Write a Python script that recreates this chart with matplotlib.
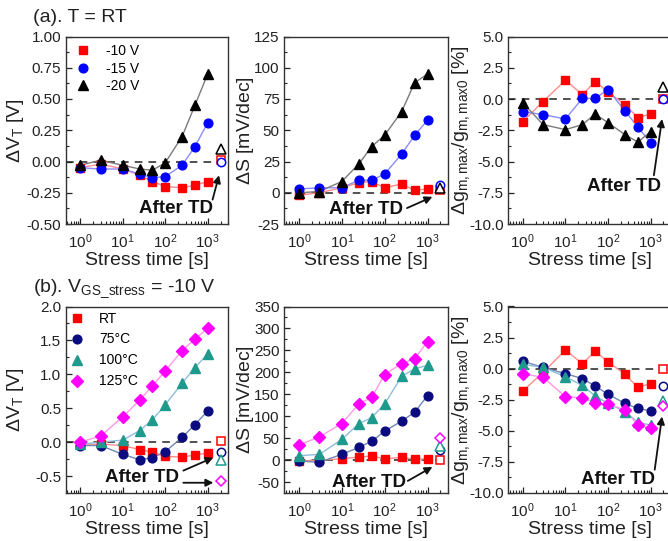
import numpy as np
import matplotlib.pyplot as plt
from matplotlib.ticker import (FixedLocator, FormatStrFormatter,
                               AutoMinorLocator, LogLocator, NullFormatter)

plt.rcParams['font.family'] = ['Liberation Sans', 'DejaVu Sans']
plt.rcParams['mathtext.fontset'] = 'custom'
plt.rcParams['mathtext.rm'] = 'Liberation Sans'
plt.rcParams['mathtext.it'] = 'Liberation Sans:italic'
plt.rcParams['mathtext.bf'] = 'Liberation Sans:bold'
plt.rcParams['mathtext.default'] = 'regular'

# tempos de estresse [s] e ponto apos TD
t = [1, 3, 10, 25, 50, 100, 250, 500, 1000]
t_td = 2000

# (a) T = RT, varias tensoes
a_labels = ['-10 V', '-15 V', '-20 V']
a_vt = [
    [-0.05, -0.02, -0.06, -0.11, -0.16, -0.20, -0.21, -0.19, -0.16],
    [-0.05, -0.06, -0.06, -0.10, -0.13, -0.12, -0.03, 0.12, 0.31],
    [-0.03, 0.01, -0.03, -0.06, -0.07, -0.01, 0.20, 0.45, 0.70],
]
a_vt_td = [0.01, 0.0, 0.10]
a_s = [
    [-2, 0, 4, 8, 9, 4, 7, 2, 3],
    [3, 4, 4, 10, 10, 15, 31, 46, 58],
    [0, 1, 9, 23, 37, 46, 65, 88, 95],
]
a_s_td = [2, 6, 4]
a_gm = [
    [-1.8, -0.2, 1.5, 0.35, 1.4, 0.55, -0.45, -1.5, -1.2],
    [-1.0, -1.25, -1.6, 0.05, 0.05, 0.75, -0.95, -2.25, -3.5],
    [-0.3, -2.05, -2.45, -2.05, -1.2, -1.9, -2.85, -3.45, -2.6],
]
a_gm_td = [0.0, 0.0, 1.0]

# (b) VGS_stress = -10 V, varias temperaturas
b_labels = ['RT', '75°C', '100°C', '125°C']
b_vt = [
    [-0.03, -0.03, -0.05, -0.11, -0.15, -0.21, -0.22, -0.19, -0.16],
    [-0.05, -0.05, -0.18, -0.26, -0.23, -0.14, 0.07, 0.26, 0.46],
    [-0.03, 0.0, 0.03, 0.17, 0.33, 0.55, 0.87, 1.10, 1.30],
    [0.0, 0.09, 0.37, 0.62, 0.83, 1.05, 1.35, 1.52, 1.68],
]
b_vt_td = [0.01, -0.14, -0.26, -0.57]
b_s = [
    [-2, 0, 3, 7, 9, 3, 6, 2, 3],
    [-2, -5, 13, 29, 43, 66, 89, 109, 147],
    [10, 13, 47, 83, 97, 128, 191, 208, 216],
    [34, 53, 83, 128, 143, 195, 220, 231, 270],
]
b_s_td = [1, 22, 33, 51]
b_gm = [
    [-1.8, -0.3, 1.5, 0.4, 1.4, 0.55, -0.45, -1.5, -1.2],
    [0.6, 0.1, -0.4, -0.8, -1.4, -2.05, -2.8, -3.2, -3.4],
    [0.35, 0.1, -0.65, -1.35, -2.2, -2.8, -3.45, -4.3, -4.55],
    [-0.4, -0.7, -2.25, -2.35, -2.75, -2.85, -3.3, -4.55, -4.8],
]
b_gm_td = [0.0, -1.42, -2.6, -3.0]

# ESTILOS (marcador, cor, cor da linha, tamanho)
a_style = [('s', '#ff0000', '#ff8c8c', 5.8),
           ('o', '#0000ff', '#8c8cff', 6.3),
           ('^', '#000000', '#7a7a7a', 6.8)]
b_style = [('s', '#ff0000', '#ff8c8c', 5.8),
           ('o', '#0b0b80', '#6f86b5', 6.3),
           ('^', '#1e9a8c', '#8fbddb', 6.8),
           ('D', '#ff00ff', '#ff99e6', 5.8)]

W, H = 668, 541
fig = plt.figure(figsize=(W / 100, H / 100), dpi=100)

cols = [(65.5, 228), (284, 448), (508, 671)]
rows = [(36.5, 224), (306.5, 493)]
ylab_x = [-0.305, -0.235, -0.29]


def make_ax(r, c):
    x0, x1 = cols[c]
    y0, y1 = rows[r]
    return fig.add_axes([x0 / W, 1 - y1 / H, (x1 - x0) / W, (y1 - y0) / H])


def style_ax(ax, c, ylim, yticks, fmt, ylabel):
    ax.set_xscale('log')
    ax.set_xlim(0.45, 3000)
    ax.set_ylim(*ylim)
    ax.xaxis.set_major_locator(FixedLocator([1, 10, 100, 1000]))
    ax.xaxis.set_minor_locator(LogLocator(base=10, subs=np.arange(2, 10), numticks=20))
    ax.xaxis.set_minor_formatter(NullFormatter())
    ax.yaxis.set_major_locator(FixedLocator(yticks))
    ax.yaxis.set_minor_locator(AutoMinorLocator(2))
    ax.yaxis.set_major_formatter(FormatStrFormatter(fmt))
    ax.tick_params(which='both', direction='in', top=False, right=False,
                   labelsize=11, colors='#222222')
    ax.tick_params(which='major', length=4.5, width=0.9)
    ax.tick_params(which='minor', length=2.5, width=0.8)
    ax.tick_params(axis='x', pad=6)
    ax.tick_params(axis='y', pad=3)
    for sp in ax.spines.values():
        sp.set_linewidth(1.0)
        sp.set_color('#333333')
    ax.axhline(0, color='#222222', lw=1.1, ls=(0, (5, 4)), zorder=1)
    ax.set_xlabel('Stress time [s]', fontsize=14, labelpad=1, color='#222222')
    ax.set_ylabel(ylabel, fontsize=14, color='#222222', va='center')
    ax.yaxis.set_label_coords(ylab_x[c], 0.5)


def draw(ax, data, td, styles, labels=None):
    for i, (ys, yt, st) in enumerate(zip(data, td, styles)):
        mk, col, lcol, ms = st
        ax.plot(t, ys, '-', color=lcol, lw=1.0, zorder=2)
        ax.plot(t, ys, mk, color=col, ms=ms, mec=col, zorder=3,
                label=labels[i] if labels else None)
        ax.plot([t_td], [yt], mk, mfc='white', mec=col, mew=1.1, ms=ms - 0.3,
                zorder=3, clip_on=False)


def after_td(ax, txt_xy, arrows):
    ax.text(txt_xy[0], txt_xy[1], 'After TD', transform=ax.transAxes,
            ha='center', va='center', fontsize=13.5, fontweight='bold',
            color='#111111')
    for start, tip in arrows:
        ax.annotate('', xy=tip, xytext=start, xycoords='axes fraction',
                    textcoords='axes fraction', annotation_clip=False,
                    arrowprops=dict(arrowstyle='-|>', color='#111111', lw=1.3,
                                    mutation_scale=11, shrinkA=0, shrinkB=0))


ylab_vt = r'$\Delta$V$_T$ [V]'
ylab_s = r'$\Delta$S [mV/dec]'
ylab_gm = r'$\Delta$g$_{m,max}$/g$_{m,max0}$ [%]'

# LINHA (a)
ax = make_ax(0, 0)
style_ax(ax, 0, (-0.5, 1.0), [-0.5, -0.25, 0, 0.25, 0.5, 0.75, 1.0], '%.2f', ylab_vt)
draw(ax, a_vt, a_vt_td, a_style, a_labels)
ax.legend(loc='upper left', bbox_to_anchor=(-0.01, 1.025), frameon=False,
          fontsize=10, handlelength=1.0, handletextpad=1.1, labelspacing=0.25)
after_td(ax, (0.68, 0.085), [((0.905, 0.13), (0.945, 0.26))])

ax = make_ax(0, 1)
style_ax(ax, 1, (-25, 125), [-25, 0, 25, 50, 75, 100, 125], '%d', ylab_s)
draw(ax, a_s, a_s_td, a_style)
after_td(ax, (0.5, 0.075), [((0.75, 0.085), (0.905, 0.145))])

ax = make_ax(0, 2)
style_ax(ax, 2, (-10, 5), [-10, -7.5, -5, -2.5, 0, 2.5, 5], '%.1f', ylab_gm)
draw(ax, a_gm, a_gm_td, a_style)
after_td(ax, (0.71, 0.2), [((0.895, 0.26), (0.945, 0.56))])

# LINHA (b)
ax = make_ax(1, 0)
style_ax(ax, 0, (-0.75, 2.0), [-0.5, 0, 0.5, 1.0, 1.5, 2.0], '%.1f', ylab_vt)
draw(ax, b_vt, b_vt_td, b_style, b_labels)
ax.legend(loc='upper left', bbox_to_anchor=(-0.05, 1.04), frameon=False,
          fontsize=10, handlelength=1.0, handletextpad=1.1, labelspacing=0.5)
after_td(ax, (0.47, 0.085), [((0.725, 0.12), (0.91, 0.19)),
                             ((0.725, 0.055), (0.91, 0.055))])

ax = make_ax(1, 1)
style_ax(ax, 1, (-75, 350), [-50, 0, 50, 100, 150, 200, 250, 300, 350], '%d', ylab_s)
draw(ax, b_s, b_s_td, b_style)
after_td(ax, (0.52, 0.055), [((0.755, 0.065), (0.905, 0.14))])

ax = make_ax(1, 2)
style_ax(ax, 2, (-10, 5), [-10, -7.5, -5, -2.5, 0, 2.5, 5], '%.1f', ylab_gm)
draw(ax, b_gm, b_gm_td, b_style)
after_td(ax, (0.675, 0.07), [((0.9, 0.125), (0.945, 0.41))])

# TITULOS
fig.text(33 / W, 1 - 17 / H, '(a). T = RT', fontsize=14, va='center', ha='left',
         color='#222222')
fig.text(33 / W, 1 - 289 / H, r'(b). V$_{GS\_stress}$ = -10 V', fontsize=14,
         va='center', ha='left', color='#222222')

fig.savefig('out.png', dpi=100)
